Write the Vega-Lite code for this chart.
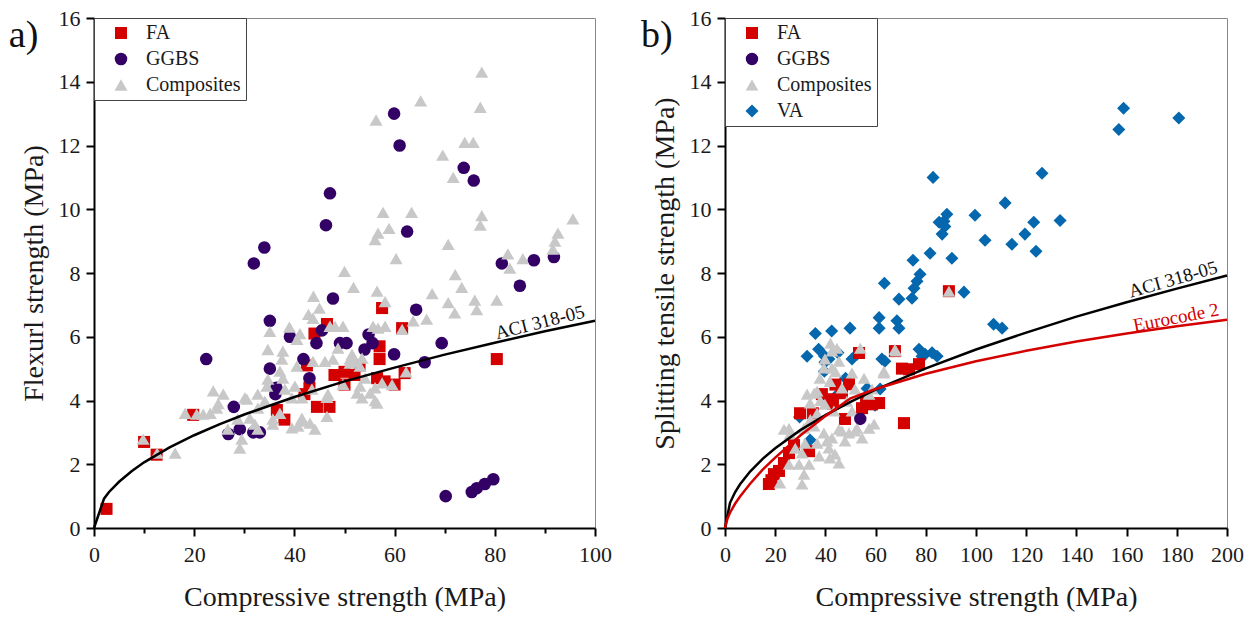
{
  "$schema": "https://vega.github.io/schema/vega-lite/v6.json",
  "background": "white",
  "padding": {"left": 8, "top": 6, "right": 5, "bottom": 0},
  "spacing": 28,
  "config": {
    "font": "Liberation Serif",
    "view": {"stroke": "#888888", "strokeWidth": 1},
    "axis": {
      "labelFont": "Liberation Serif", "titleFont": "Liberation Serif",
      "labelFontSize": 22, "titleFontSize": 28, "titleFontWeight": "normal",
      "labelColor": "#1a1a1a", "titleColor": "#1a1a1a",
      "domainColor": "black", "domainWidth": 2, "tickColor": "black", "tickWidth": 2,
      "grid": false, "labelFlush": false, "labelOverlap": false
    },
    "legend": {
      "orient": "top-left", "offset": 0, "strokeColor": "#444444", "fillColor": "white",
      "padding": 5, "labelFont": "Liberation Serif", "labelFontSize": 20, "labelColor": "#1a1a1a",
      "symbolSize": 150, "rowPadding": 6, "symbolOffset": 12, "labelOffset": 15, "symbolStrokeWidth": 0
    }
  },
  "datasets": {
    "pointsA": [
      {"x":2.5,"y":0.6,"type":"FA"},{"x":10,"y":2.7,"type":"FA"},{"x":12.5,"y":2.3,"type":"FA"},{"x":19.8,"y":3.55,"type":"FA"},
      {"x":36.5,"y":3.7,"type":"FA"},{"x":42.5,"y":5.1,"type":"FA"},{"x":42,"y":4.2,"type":"FA"},{"x":43,"y":4.4,"type":"FA"},
      {"x":44.5,"y":3.8,"type":"FA"},{"x":47,"y":3.8,"type":"FA"},{"x":46.5,"y":6.4,"type":"FA"},{"x":48,"y":4.8,"type":"FA"},
      {"x":50,"y":4.9,"type":"FA"},{"x":50,"y":4.5,"type":"FA"},{"x":52,"y":4.8,"type":"FA"},{"x":53,"y":5.1,"type":"FA"},
      {"x":56.5,"y":4.7,"type":"FA"},{"x":57,"y":5.3,"type":"FA"},{"x":57,"y":5.7,"type":"FA"},{"x":57.5,"y":6.9,"type":"FA"},
      {"x":58,"y":4.6,"type":"FA"},{"x":60,"y":4.5,"type":"FA"},{"x":61.5,"y":6.27,"type":"FA"},{"x":62,"y":4.86,"type":"FA"},
      {"x":80.4,"y":5.3,"type":"FA"},{"x":44,"y":6.1,"type":"FA"},{"x":38,"y":3.4,"type":"FA"},
      {"x":22.4,"y":5.3,"type":"GGBS"},{"x":27.9,"y":3.8,"type":"GGBS"},{"x":26.8,"y":2.95,"type":"GGBS"},{"x":29.1,"y":3.1,"type":"GGBS"},
      {"x":31.8,"y":3.0,"type":"GGBS"},{"x":33.1,"y":3.0,"type":"GGBS"},{"x":31.9,"y":8.3,"type":"GGBS"},{"x":34.0,"y":8.8,"type":"GGBS"},
      {"x":35.1,"y":6.5,"type":"GGBS"},{"x":35.1,"y":5.0,"type":"GGBS"},{"x":36.2,"y":4.2,"type":"GGBS"},{"x":36.4,"y":4.4,"type":"GGBS"},
      {"x":39.1,"y":6.0,"type":"GGBS"},{"x":41.8,"y":5.3,"type":"GGBS"},{"x":43,"y":4.7,"type":"GGBS"},{"x":44.4,"y":5.8,"type":"GGBS"},
      {"x":45.5,"y":6.2,"type":"GGBS"},{"x":46.3,"y":9.5,"type":"GGBS"},{"x":47.1,"y":10.5,"type":"GGBS"},{"x":47.7,"y":7.2,"type":"GGBS"},
      {"x":49.1,"y":5.8,"type":"GGBS"},{"x":50.4,"y":5.8,"type":"GGBS"},{"x":54,"y":5.6,"type":"GGBS"},{"x":54.8,"y":6.07,"type":"GGBS"},
      {"x":55.6,"y":5.8,"type":"GGBS"},{"x":59.9,"y":5.45,"type":"GGBS"},{"x":59.9,"y":13.0,"type":"GGBS"},{"x":61,"y":12.0,"type":"GGBS"},
      {"x":62.5,"y":9.3,"type":"GGBS"},{"x":64.3,"y":6.85,"type":"GGBS"},{"x":66,"y":5.2,"type":"GGBS"},{"x":69.4,"y":5.8,"type":"GGBS"},
      {"x":70.2,"y":1.0,"type":"GGBS"},{"x":75.4,"y":1.13,"type":"GGBS"},{"x":76.4,"y":1.25,"type":"GGBS"},{"x":78,"y":1.38,"type":"GGBS"},
      {"x":79.7,"y":1.53,"type":"GGBS"},{"x":73.8,"y":11.3,"type":"GGBS"},{"x":75.8,"y":10.9,"type":"GGBS"},{"x":81.4,"y":8.3,"type":"GGBS"},
      {"x":85,"y":7.6,"type":"GGBS"},{"x":87.8,"y":8.4,"type":"GGBS"},{"x":91.8,"y":8.5,"type":"GGBS"},
      {"x":77.4,"y":14.3,"type":"Composites"},{"x":77.1,"y":13.2,"type":"Composites"},{"x":65.2,"y":13.4,"type":"Composites"},{"x":56.3,"y":12.8,"type":"Composites"},
      {"x":74,"y":12.1,"type":"Composites"},{"x":75.7,"y":12.1,"type":"Composites"},{"x":69.6,"y":11.7,"type":"Composites"},{"x":71.7,"y":11.0,"type":"Composites"},
      {"x":57.7,"y":9.9,"type":"Composites"},{"x":63.4,"y":9.9,"type":"Composites"},{"x":77.4,"y":9.8,"type":"Composites"},{"x":77.1,"y":9.5,"type":"Composites"},
      {"x":58.9,"y":9.4,"type":"Composites"},{"x":56.7,"y":9.25,"type":"Composites"},{"x":56.1,"y":9.05,"type":"Composites"},{"x":70.7,"y":8.9,"type":"Composites"},
      {"x":95.6,"y":9.7,"type":"Composites"},{"x":92.6,"y":9.25,"type":"Composites"},{"x":92,"y":9.0,"type":"Composites"},{"x":91.6,"y":8.75,"type":"Composites"},
      {"x":60.3,"y":8.45,"type":"Composites"},{"x":82.6,"y":8.6,"type":"Composites"},{"x":85.6,"y":8.45,"type":"Composites"},{"x":83,"y":8.15,"type":"Composites"},
      {"x":50,"y":8.05,"type":"Composites"},{"x":72.1,"y":7.95,"type":"Composites"},{"x":73.4,"y":7.55,"type":"Composites"},{"x":51.8,"y":7.55,"type":"Composites"},
      {"x":43.8,"y":7.27,"type":"Composites"},{"x":56.5,"y":7.43,"type":"Composites"},{"x":67.5,"y":7.35,"type":"Composites"},{"x":70.7,"y":7.07,"type":"Composites"},
      {"x":76,"y":7.15,"type":"Composites"},{"x":80.4,"y":7.15,"type":"Composites"},{"x":58.1,"y":7.1,"type":"Composites"},
      {"x":72,"y":6.75,"type":"Composites"},{"x":76.4,"y":6.85,"type":"Composites"},{"x":66.4,"y":6.55,"type":"Composites"},{"x":61.5,"y":6.23,"type":"Composites"},
      {"x":63.7,"y":6.5,"type":"Composites"},{"x":56.7,"y":6.27,"type":"Composites"},{"x":49.7,"y":6.33,"type":"Composites"},{"x":47.1,"y":6.33,"type":"Composites"},
      {"x":42.8,"y":6.7,"type":"Composites"},{"x":43.7,"y":6.58,"type":"Composites"},{"x":52.1,"y":5.23,"type":"Composites"},{"x":54.1,"y":4.7,"type":"Composites"},
      {"x":56.1,"y":4.4,"type":"Composites"},{"x":56.1,"y":4.0,"type":"Composites"},{"x":59.5,"y":4.5,"type":"Composites"},{"x":62.3,"y":4.9,"type":"Composites"},
      {"x":46.5,"y":3.5,"type":"Composites"},{"x":44.1,"y":3.1,"type":"Composites"},{"x":41.5,"y":3.35,"type":"Composites"},{"x":46.5,"y":4.1,"type":"Composites"},
      {"x":47.7,"y":5.3,"type":"Composites"},{"x":51.1,"y":5.3,"type":"Composites"},{"x":53.1,"y":4.45,"type":"Composites"},{"x":55.7,"y":6.33,"type":"Composites"},
      {"x":58.1,"y":6.33,"type":"Composites"},{"x":48.1,"y":6.33,"type":"Composites"},{"x":51.5,"y":5.45,"type":"Composites"},{"x":53.5,"y":5.33,"type":"Composites"},
      {"x":48.7,"y":5.64,"type":"Composites"},{"x":57.5,"y":4.55,"type":"Composites"},{"x":55.1,"y":4.23,"type":"Composites"},{"x":56.5,"y":3.92,"type":"Composites"},
      {"x":52.5,"y":4.23,"type":"Composites"},{"x":53.5,"y":4.08,"type":"Composites"},{"x":49.7,"y":4.51,"type":"Composites"},{"x":51.1,"y":5.17,"type":"Composites"},
      {"x":53.1,"y":5.08,"type":"Composites"},
      {"x":35.1,"y":6.17,"type":"Composites"},{"x":41.1,"y":6.1,"type":"Composites"},{"x":40.5,"y":5.92,"type":"Composites"},{"x":34.7,"y":5.6,"type":"Composites"},
      {"x":37.7,"y":5.55,"type":"Composites"},{"x":37.5,"y":5.3,"type":"Composites"},{"x":40.5,"y":5.08,"type":"Composites"},{"x":43.7,"y":5.23,"type":"Composites"},
      {"x":46.1,"y":5.23,"type":"Composites"},{"x":37.1,"y":4.92,"type":"Composites"},{"x":34.7,"y":4.67,"type":"Composites"},{"x":37.7,"y":4.7,"type":"Composites"},
      {"x":40.1,"y":4.45,"type":"Composites"},{"x":38.1,"y":4.36,"type":"Composites"},{"x":34.5,"y":4.45,"type":"Composites"},{"x":32.7,"y":4.2,"type":"Composites"},
      {"x":30.1,"y":4.08,"type":"Composites"},{"x":23.8,"y":4.3,"type":"Composites"},{"x":25.8,"y":4.2,"type":"Composites"},{"x":24.8,"y":3.9,"type":"Composites"},
      {"x":18.2,"y":3.6,"type":"Composites"},{"x":20.5,"y":3.57,"type":"Composites"},{"x":21.8,"y":3.57,"type":"Composites"},{"x":23.2,"y":3.6,"type":"Composites"},
      {"x":24.5,"y":3.76,"type":"Composites"},{"x":32.7,"y":3.76,"type":"Composites"},{"x":34.1,"y":3.98,"type":"Composites"},{"x":41.5,"y":4.08,"type":"Composites"},
      {"x":39.5,"y":4.08,"type":"Composites"},{"x":43.5,"y":4.36,"type":"Composites"},{"x":46.7,"y":4.2,"type":"Composites"},{"x":37.1,"y":3.6,"type":"Composites"},
      {"x":35.7,"y":3.42,"type":"Composites"},{"x":41.5,"y":3.45,"type":"Composites"},{"x":43.1,"y":3.29,"type":"Composites"},{"x":40.7,"y":3.2,"type":"Composites"},
      {"x":39.5,"y":3.14,"type":"Composites"},{"x":35.7,"y":3.26,"type":"Composites"},{"x":32.1,"y":3.26,"type":"Composites"},{"x":31.1,"y":3.45,"type":"Composites"},
      {"x":28.7,"y":3.42,"type":"Composites"},{"x":26.7,"y":3.1,"type":"Composites"},{"x":29.5,"y":2.79,"type":"Composites"},{"x":29.1,"y":2.51,"type":"Composites"},
      {"x":32.7,"y":3.1,"type":"Composites"},{"x":16.2,"y":2.35,"type":"Composites"},{"x":9.8,"y":2.79,"type":"Composites"},{"x":12.6,"y":2.35,"type":"Composites"},
      {"x":30.5,"y":4.04,"type":"Composites"},{"x":45,"y":6.9,"type":"Composites"},{"x":39,"y":6.3,"type":"Composites"}
    ],
    "pointsB": [
      {"x":82.9,"y":11.0,"type":"VA"},{"x":126.3,"y":11.13,"type":"VA"},{"x":111.6,"y":10.2,"type":"VA"},{"x":99.6,"y":9.81,"type":"VA"},
      {"x":88.4,"y":9.84,"type":"VA"},{"x":87.2,"y":9.62,"type":"VA"},{"x":85.3,"y":9.59,"type":"VA"},{"x":87.6,"y":9.46,"type":"VA"},
      {"x":86.5,"y":9.22,"type":"VA"},{"x":123,"y":9.59,"type":"VA"},{"x":133.5,"y":9.65,"type":"VA"},{"x":119.5,"y":9.22,"type":"VA"},
      {"x":103.6,"y":9.03,"type":"VA"},{"x":114.3,"y":8.9,"type":"VA"},{"x":123.9,"y":8.68,"type":"VA"},{"x":81.7,"y":8.62,"type":"VA"},
      {"x":90.4,"y":8.46,"type":"VA"},{"x":74.9,"y":8.4,"type":"VA"},{"x":77.7,"y":7.96,"type":"VA"},{"x":76.5,"y":7.74,"type":"VA"},
      {"x":75.3,"y":7.52,"type":"VA"},{"x":63.5,"y":7.68,"type":"VA"},{"x":74.5,"y":7.21,"type":"VA"},{"x":69.3,"y":7.18,"type":"VA"},
      {"x":95.2,"y":7.4,"type":"VA"},{"x":68.5,"y":6.5,"type":"VA"},{"x":69.3,"y":6.27,"type":"VA"},{"x":61.4,"y":6.6,"type":"VA"},
      {"x":61.4,"y":6.27,"type":"VA"},{"x":107,"y":6.39,"type":"VA"},{"x":110.4,"y":6.27,"type":"VA"},{"x":158.8,"y":13.17,"type":"VA"},
      {"x":180.8,"y":12.86,"type":"VA"},{"x":156.9,"y":12.5,"type":"VA"},{"x":84.5,"y":5.39,"type":"VA"},{"x":82.5,"y":5.5,"type":"VA"},
      {"x":77.3,"y":5.61,"type":"VA"},{"x":79.7,"y":5.45,"type":"VA"},{"x":78.5,"y":5.39,"type":"VA"},{"x":36,"y":6.1,"type":"VA"},
      {"x":42.5,"y":6.18,"type":"VA"},{"x":49.8,"y":6.27,"type":"VA"},{"x":32.7,"y":5.39,"type":"VA"},{"x":37.3,"y":5.61,"type":"VA"},
      {"x":39.6,"y":5.4,"type":"VA"},{"x":41.4,"y":5.3,"type":"VA"},{"x":39.8,"y":5.2,"type":"VA"},{"x":50.6,"y":5.3,"type":"VA"},
      {"x":52.6,"y":5.45,"type":"VA"},{"x":62.5,"y":5.3,"type":"VA"},{"x":63.7,"y":5.23,"type":"VA"},{"x":39.6,"y":4.92,"type":"VA"},
      {"x":44.6,"y":4.17,"type":"VA"},{"x":61.8,"y":4.36,"type":"VA"},{"x":59.8,"y":3.85,"type":"VA"},{"x":56.6,"y":4.38,"type":"VA"},
      {"x":29.7,"y":3.48,"type":"VA"},{"x":33.9,"y":2.76,"type":"VA"},{"x":48,"y":4.7,"type":"VA"},{"x":45,"y":5.5,"type":"VA"},
      {"x":17.5,"y":1.38,"type":"FA"},{"x":18.5,"y":1.5,"type":"FA"},{"x":19.5,"y":1.69,"type":"FA"},{"x":21.5,"y":1.79,"type":"FA"},
      {"x":23.5,"y":2.04,"type":"FA"},{"x":25.5,"y":2.35,"type":"FA"},{"x":27.5,"y":2.6,"type":"FA"},{"x":29.9,"y":3.6,"type":"FA"},
      {"x":33.5,"y":2.41,"type":"FA"},{"x":38.6,"y":4.2,"type":"FA"},{"x":41.8,"y":4.04,"type":"FA"},{"x":43,"y":3.9,"type":"FA"},
      {"x":46.6,"y":4.23,"type":"FA"},{"x":47.8,"y":3.42,"type":"FA"},{"x":49.4,"y":4.51,"type":"FA"},{"x":53.4,"y":5.49,"type":"FA"},
      {"x":54.6,"y":3.76,"type":"FA"},{"x":56.2,"y":4.0,"type":"FA"},{"x":58.6,"y":3.88,"type":"FA"},{"x":61.4,"y":3.92,"type":"FA"},
      {"x":67.7,"y":5.55,"type":"FA"},{"x":70.5,"y":5.0,"type":"FA"},{"x":73.3,"y":4.98,"type":"FA"},{"x":77.3,"y":5.14,"type":"FA"},
      {"x":71.3,"y":3.29,"type":"FA"},{"x":89.2,"y":7.43,"type":"FA"},{"x":35,"y":3.6,"type":"FA"},{"x":44,"y":4.5,"type":"FA"},
      {"x":44.6,"y":5.64,"type":"Composites"},{"x":53.9,"y":5.64,"type":"Composites"},{"x":67.7,"y":5.6,"type":"Composites"},{"x":45.4,"y":5.23,"type":"Composites"},
      {"x":39.8,"y":5.3,"type":"Composites"},{"x":42.6,"y":5.02,"type":"Composites"},{"x":37.8,"y":4.7,"type":"Composites"},{"x":41.8,"y":4.6,"type":"Composites"},
      {"x":50.6,"y":4.86,"type":"Composites"},{"x":55.4,"y":4.7,"type":"Composites"},{"x":63.3,"y":4.92,"type":"Composites"},{"x":51.8,"y":4.36,"type":"Composites"},
      {"x":58.6,"y":4.36,"type":"Composites"},{"x":35.5,"y":4.23,"type":"Composites"},{"x":33.9,"y":3.92,"type":"Composites"},{"x":39.8,"y":3.88,"type":"Composites"},
      {"x":43.4,"y":3.67,"type":"Composites"},{"x":36.7,"y":3.6,"type":"Composites"},{"x":48.6,"y":3.98,"type":"Composites"},{"x":57.4,"y":3.13,"type":"Composites"},
      {"x":51.8,"y":3.04,"type":"Composites"},{"x":54.6,"y":2.82,"type":"Composites"},{"x":47.8,"y":2.73,"type":"Composites"},{"x":45.4,"y":3.1,"type":"Composites"},
      {"x":42.6,"y":2.82,"type":"Composites"},{"x":39.4,"y":2.98,"type":"Composites"},{"x":35.5,"y":3.2,"type":"Composites"},{"x":31.5,"y":3.13,"type":"Composites"},
      {"x":25.5,"y":3.13,"type":"Composites"},{"x":25.9,"y":2.95,"type":"Composites"},{"x":31.9,"y":2.66,"type":"Composites"},{"x":36.7,"y":2.66,"type":"Composites"},
      {"x":41.4,"y":2.51,"type":"Composites"},{"x":41.8,"y":2.2,"type":"Composites"},{"x":37.5,"y":2.26,"type":"Composites"},{"x":30.7,"y":2.35,"type":"Composites"},
      {"x":29.5,"y":2.0,"type":"Composites"},{"x":25.5,"y":2.0,"type":"Composites"},{"x":33.5,"y":2.0,"type":"Composites"},{"x":30.7,"y":1.38,"type":"Composites"},
      {"x":21.9,"y":1.41,"type":"Composites"},{"x":45.4,"y":2.04,"type":"Composites"},{"x":50.6,"y":3.67,"type":"Composites"},{"x":59.4,"y":3.26,"type":"Composites"},
      {"x":23.5,"y":3.1,"type":"Composites"},{"x":32.7,"y":4.2,"type":"Composites"},{"x":36.7,"y":4.3,"type":"Composites"},{"x":39.4,"y":5.02,"type":"Composites"},
      {"x":42.6,"y":5.55,"type":"Composites"},{"x":63.3,"y":4.86,"type":"Composites"},{"x":46.6,"y":4.39,"type":"Composites"},{"x":57.4,"y":4.2,"type":"Composites"},
      {"x":43.8,"y":2.32,"type":"Composites"},{"x":31.5,"y":1.69,"type":"Composites"},{"x":52.6,"y":3.13,"type":"Composites"},{"x":46.6,"y":3.04,"type":"Composites"},
      {"x":40.6,"y":2.73,"type":"Composites"},{"x":49.4,"y":2.98,"type":"Composites"},{"x":89.2,"y":7.43,"type":"Composites"},{"x":68.1,"y":5.55,"type":"Composites"},
      {"x":42,"y":5.8,"type":"Composites"},{"x":44,"y":4.9,"type":"Composites"},{"x":38,"y":4.0,"type":"Composites"},{"x":28,"y":2.5,"type":"Composites"},
      {"x":34,"y":3.4,"type":"Composites"},
      {"x":53.9,"y":3.42,"type":"GGBS"}
    ],
    "aciA": [
      {"x":0,"y":0},{"x":2,"y":0.92},{"x":3,"y":1.13},{"x":5,"y":1.45},{"x":7.5,"y":1.78},{"x":10,"y":2.06},{"x":15,"y":2.52},
      {"x":20,"y":2.91},{"x":25,"y":3.25},{"x":30,"y":3.56},{"x":40,"y":4.11},{"x":50,"y":4.6},{"x":60,"y":5.03},{"x":70,"y":5.44},
      {"x":80,"y":5.81},{"x":90,"y":6.17},{"x":100,"y":6.5}
    ],
    "curvesB": [
      {"x":0,"y":0,"code":"ACI"},{"x":2,"y":0.79,"code":"ACI"},{"x":4,"y":1.12,"code":"ACI"},{"x":6,"y":1.37,"code":"ACI"},
      {"x":10,"y":1.77,"code":"ACI"},{"x":15,"y":2.17,"code":"ACI"},{"x":20,"y":2.5,"code":"ACI"},{"x":30,"y":3.07,"code":"ACI"},
      {"x":40,"y":3.54,"code":"ACI"},{"x":50,"y":3.96,"code":"ACI"},{"x":60,"y":4.34,"code":"ACI"},{"x":80,"y":5.01,"code":"ACI"},
      {"x":100,"y":5.6,"code":"ACI"},{"x":120,"y":6.13,"code":"ACI"},{"x":140,"y":6.63,"code":"ACI"},{"x":160,"y":7.08,"code":"ACI"},
      {"x":180,"y":7.51,"code":"ACI"},{"x":200,"y":7.92,"code":"ACI"},
      {"x":0,"y":0,"code":"EC2"},{"x":1,"y":0.3,"code":"EC2"},{"x":2,"y":0.48,"code":"EC2"},{"x":4,"y":0.76,"code":"EC2"},
      {"x":6,"y":0.99,"code":"EC2"},{"x":10,"y":1.39,"code":"EC2"},{"x":15,"y":1.83,"code":"EC2"},{"x":20,"y":2.21,"code":"EC2"},
      {"x":30,"y":2.9,"code":"EC2"},{"x":40,"y":3.51,"code":"EC2"},{"x":50,"y":4.07,"code":"EC2"},{"x":60,"y":4.36,"code":"EC2"},
      {"x":80,"y":4.84,"code":"EC2"},{"x":100,"y":5.23,"code":"EC2"},{"x":120,"y":5.56,"code":"EC2"},{"x":140,"y":5.85,"code":"EC2"},
      {"x":160,"y":6.1,"code":"EC2"},{"x":180,"y":6.33,"code":"EC2"},{"x":200,"y":6.53,"code":"EC2"}
    ]
  },
  "resolve": {"scale": {"x": "independent", "y": "independent", "color": "independent", "shape": "independent", "size": "independent", "stroke": "independent"}},
  "hconcat": [
    {
      "width": 501, "height": 510,
      "layer": [
        {
          "data": {"name": "pointsA"},
          "mark": {"type": "point", "filled": true, "opacity": 1, "strokeWidth": 0},
          "encoding": {
            "x": {"field": "x", "type": "quantitative", "scale": {"domain": [0, 100], "nice": false},
              "axis": {"title": "Compressive strength (MPa)", "values": [0,10,20,30,40,50,60,70,80,90,100],
                "labelExpr": "datum.value % 20 === 0 ? datum.label : ''",
                "tickSize": {"condition": {"test": "datum.value % 20 === 0", "value": 8}, "value": 5},
                "labelPadding": 8, "titlePadding": 18}},
            "y": {"field": "y", "type": "quantitative", "scale": {"domain": [0, 16], "nice": false},
              "axis": {"title": "Flexurl strength (MPa)", "values": [0,1,2,3,4,5,6,7,8,9,10,11,12,13,14,15,16],
                "labelExpr": "datum.value % 2 === 0 ? datum.label : ''",
                "tickSize": {"condition": {"test": "datum.value % 2 === 0", "value": 8}, "value": 5},
                "labelPadding": 6, "titlePadding": 10}},
            "color": {"field": "type", "type": "nominal", "scale": {"domain": ["FA", "GGBS", "Composites"], "range": ["#d40000", "#330066", "#c8c8c8"]}, "legend": {"title": null}},
            "shape": {"field": "type", "type": "nominal", "scale": {"domain": ["FA", "GGBS", "Composites"], "range": ["square", "circle", "triangle-up"]}, "legend": {"title": null}},
            "size": {"field": "type", "type": "nominal", "scale": {"domain": ["FA", "GGBS", "Composites"], "range": [145, 170, 275]}, "legend": null}
          }
        },
        {
          "data": {"name": "aciA"},
          "mark": {"type": "line", "color": "black", "strokeWidth": 2.5},
          "encoding": {
            "x": {"field": "x", "type": "quantitative", "scale": {"domain": [0, 100]}},
            "y": {"field": "y", "type": "quantitative", "scale": {"domain": [0, 16]}}
          }
        },
        {
          "data": {"values": [{"label": "ACI 318-05"}]},
          "mark": {"type": "text", "font": "Liberation Serif", "fontSize": 19, "angle": -14, "align": "center", "baseline": "middle", "color": "#111"},
          "encoding": {
            "text": {"field": "label"},
            "x": {"datum": 89, "type": "quantitative", "scale": {"domain": [0, 100]}},
            "y": {"datum": 6.45, "type": "quantitative", "scale": {"domain": [0, 16]}}
          }
        },
        {
          "data": {"values": [{"label": "a)"}]},
          "mark": {"type": "text", "font": "Liberation Serif", "fontSize": 38, "align": "left", "baseline": "middle", "color": "#111"},
          "encoding": {
            "text": {"field": "label"},
            "x": {"datum": -17, "type": "quantitative", "scale": {"domain": [0, 100]}},
            "y": {"datum": 15.45, "type": "quantitative", "scale": {"domain": [0, 16]}}
          }
        }
      ]
    },
    {
      "width": 502, "height": 510,
      "layer": [
        {
          "data": {"name": "pointsB"},
          "mark": {"type": "point", "filled": true, "opacity": 1, "strokeWidth": 0},
          "encoding": {
            "x": {"field": "x", "type": "quantitative", "scale": {"domain": [0, 200], "nice": false},
              "axis": {"title": "Compressive strength (MPa)", "values": [0,10,20,30,40,50,60,70,80,90,100,110,120,130,140,150,160,170,180,190,200],
                "labelExpr": "datum.value % 20 === 0 ? datum.label : ''",
                "tickSize": {"condition": {"test": "datum.value % 20 === 0", "value": 8}, "value": 5},
                "labelPadding": 8, "titlePadding": 18}},
            "y": {"field": "y", "type": "quantitative", "scale": {"domain": [0, 16], "nice": false},
              "axis": {"title": "Splitting tensile strength (MPa)", "values": [0,1,2,3,4,5,6,7,8,9,10,11,12,13,14,15,16],
                "labelExpr": "datum.value % 2 === 0 ? datum.label : ''",
                "tickSize": {"condition": {"test": "datum.value % 2 === 0", "value": 8}, "value": 5},
                "labelPadding": 6, "titlePadding": 10}},
            "color": {"field": "type", "type": "nominal", "scale": {"domain": ["FA", "GGBS", "Composites", "VA"], "range": ["#d40000", "#330066", "#c8c8c8", "#0567ad"]}, "legend": {"title": null}},
            "shape": {"field": "type", "type": "nominal", "scale": {"domain": ["FA", "GGBS", "Composites", "VA"], "range": ["square", "circle", "triangle-up", "diamond"]}, "legend": {"title": null}},
            "size": {"field": "type", "type": "nominal", "scale": {"domain": ["FA", "GGBS", "Composites", "VA"], "range": [145, 170, 275, 310]}, "legend": null}
          }
        },
        {
          "data": {"name": "curvesB"},
          "mark": {"type": "line", "strokeWidth": 2.5},
          "encoding": {
            "x": {"field": "x", "type": "quantitative", "scale": {"domain": [0, 200]}},
            "y": {"field": "y", "type": "quantitative", "scale": {"domain": [0, 16]}},
            "stroke": {"field": "code", "type": "nominal", "scale": {"domain": ["ACI", "EC2"], "range": ["black", "#d40000"]}, "legend": null}
          }
        },
        {
          "data": {"values": [{"label": "ACI 318-05"}]},
          "mark": {"type": "text", "font": "Liberation Serif", "fontSize": 19, "angle": -16, "align": "center", "baseline": "middle", "color": "#111"},
          "encoding": {
            "text": {"field": "label"},
            "x": {"datum": 178.5, "type": "quantitative", "scale": {"domain": [0, 200]}},
            "y": {"datum": 7.8, "type": "quantitative", "scale": {"domain": [0, 16]}}
          }
        },
        {
          "data": {"values": [{"label": "Eurocode 2"}]},
          "mark": {"type": "text", "font": "Liberation Serif", "fontSize": 19, "angle": -11, "align": "center", "baseline": "middle", "color": "#d40000"},
          "encoding": {
            "text": {"field": "label"},
            "x": {"datum": 179.7, "type": "quantitative", "scale": {"domain": [0, 200]}},
            "y": {"datum": 6.6, "type": "quantitative", "scale": {"domain": [0, 16]}}
          }
        },
        {
          "data": {"values": [{"label": "b)"}]},
          "mark": {"type": "text", "font": "Liberation Serif", "fontSize": 38, "align": "left", "baseline": "middle", "color": "#111"},
          "encoding": {
            "text": {"field": "label"},
            "x": {"datum": -33.5, "type": "quantitative", "scale": {"domain": [0, 200]}},
            "y": {"datum": 15.45, "type": "quantitative", "scale": {"domain": [0, 16]}}
          }
        }
      ]
    }
  ]
}
